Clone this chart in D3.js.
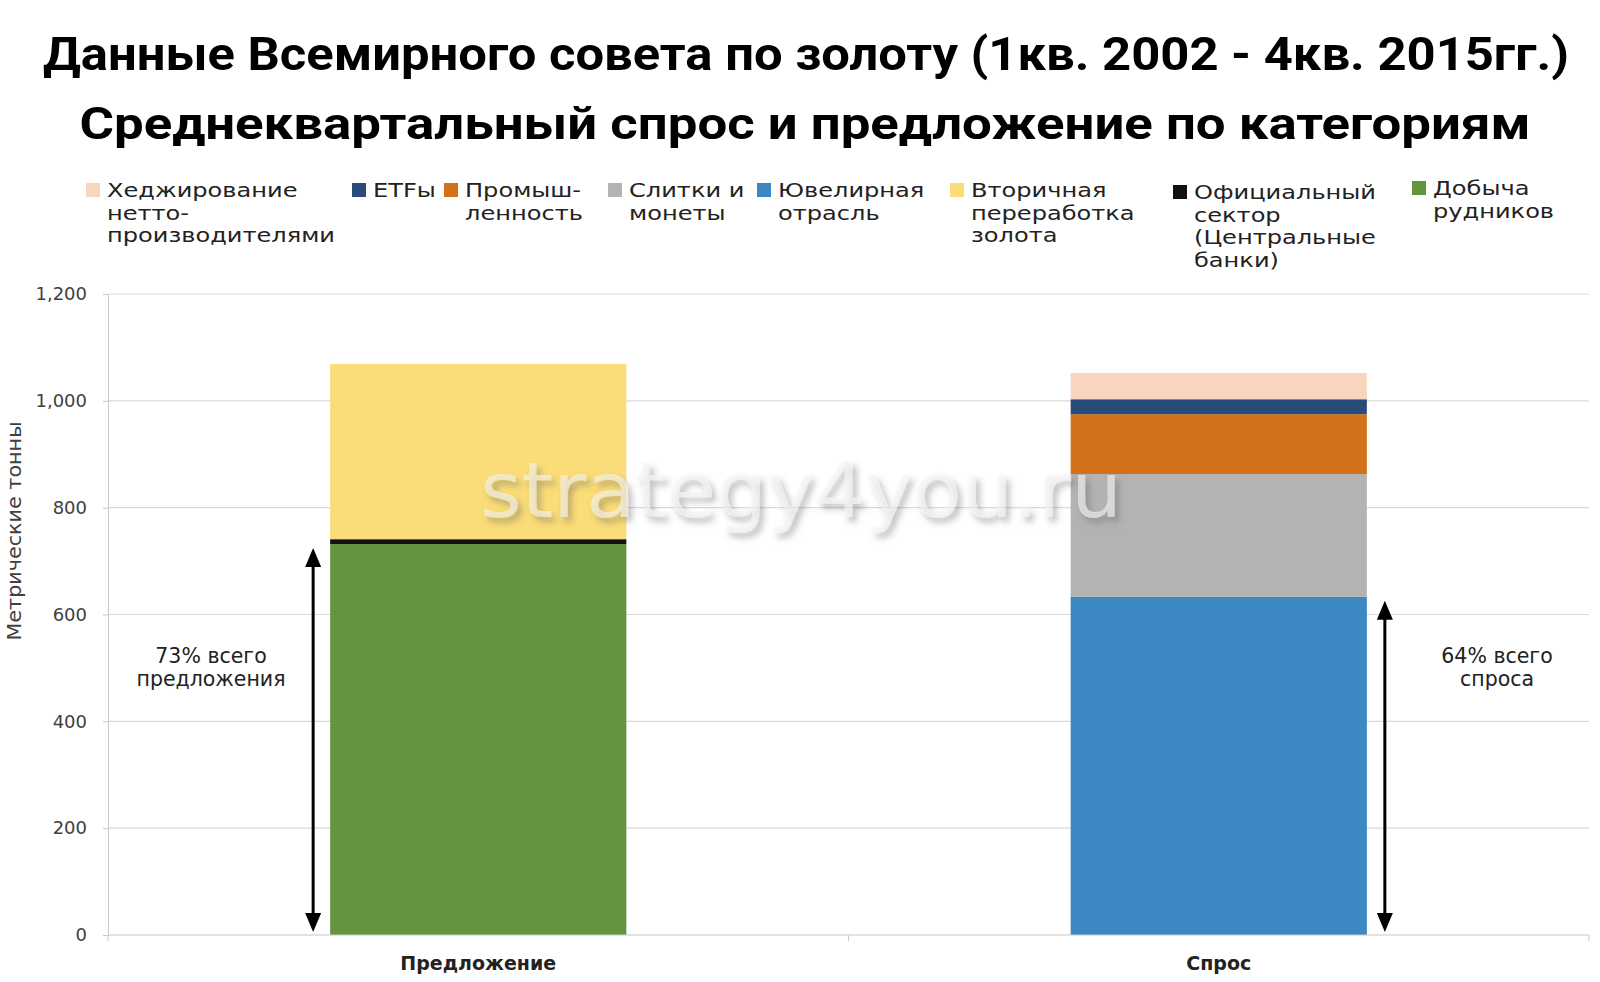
<!DOCTYPE html>
<html><head><meta charset="utf-8">
<script src="https://cdn.jsdelivr.net/npm/d3@7"></script>
<style>
html,body{margin:0;padding:0;background:#fff;}
svg{display:block;}
</style></head>
<body>
<svg id="chart" width="1600" height="982"></svg>
<script>
// ---------- data ----------
const titleLines = ["Данные Всемирного совета по золоту (1кв. 2002 - 4кв. 2015гг.)",
                    "Среднеквартальный спрос и предложение по категориям"];
const categories = ["Предложение", "Спрос"];
// series in stacking order (bottom to top)
const seriesNames = ["Добыча рудников", "Официальный сектор (Центральные банки)", "Вторичная переработка золота",
                     "Ювелирная отрасль", "Слитки и монеты", "Промышленность", "ETFы", "Хеджирование нетто-производителями"];
const seriesLegendLines = [["Добыча","рудников"], ["Официальный","сектор","(Центральные","банки)"],
                           ["Вторичная","переработка","золота"], ["Ювелирная","отрасль"], ["Слитки и","монеты"],
                           ["Промыш-","ленность"], ["ETFы"], ["Хеджирование","нетто-","производителями"]];
const seriesColors = ["#659441", "#111111", "#FADC78", "#3B88C3", "#B3B3B3", "#D27119", "#2A4C7C", "#F8D5BD"];
const supplyValues = [732, 9, 328, 0, 0, 0, 0, 0];
const demandValues = [0, 0, 0, 633, 230, 112, 28, 49];
const yTicks = [0, 200, 400, 600, 800, 1000, 1200];
const yTickLabels = ["0", "200", "400", "600", "800", "1,000", "1,200"];
const yTitle = "Метрические тонны";
const annotations = [
  {category: "Предложение", series: 0, side: "left",  lines: ["73% всего", "предложения"]},
  {category: "Спрос",       series: 3, side: "right", lines: ["64% всего", "спроса"]}
];
const watermark = "strategy4you.ru";

// ---------- layout ----------
const svg = d3.select("#chart");
const M = {left: 108, right: 1589, top: 294, bottom: 935};
const legendTextX = [107, 373, 465, 629, 778, 971, 1194, 1433]; // display order
const legendBase  = [197, 197, 197, 197, 197, 197, 199, 195];

const x = d3.scaleBand().domain(categories).range([M.left, M.right]).paddingInner(0.6).paddingOuter(0.3);
const y = d3.scaleLinear().domain([0, 1200]).range([M.bottom, M.top]);

const defs = svg.append("defs");
const f = defs.append("filter").attr("id","wm").attr("x","-10%").attr("y","-30%").attr("width","120%").attr("height","160%");
f.append("feDropShadow").attr("dx",4).attr("dy",5).attr("stdDeviation",3).attr("flood-color","#555").attr("flood-opacity",0.6);

// titles
const titleSpec = [{y: 70, w: 1526, cx: 806, fs: 46}, {y: 139, w: 1451, cx: 805, fs: 44}];
titleLines.forEach((t, i) => {
  const s = titleSpec[i];
  const el = svg.append("text").attr("x", s.cx).attr("y", s.y)
    .attr("text-anchor","middle").attr("font-family","Roboto, 'DejaVu Sans'").attr("font-weight","bold")
    .attr("font-size", s.fs).attr("fill","#000").text(t);
  const nat = el.node().getComputedTextLength();
  if (nat > s.w) el.attr("font-size", s.fs * s.w / nat);
  el.attr("textLength", s.w).attr("lengthAdjust","spacingAndGlyphs");
});

// gridlines
svg.append("g").selectAll("line").data(yTicks.filter(d => d > 0)).join("line")
  .attr("x1", M.left).attr("x2", M.right).attr("y1", d => y(d)).attr("y2", d => y(d))
  .attr("stroke", "#d9d9d9").attr("stroke-width", 1.2);

// y axis
const yAxis = d3.axisLeft(y).tickValues(yTicks).tickFormat((d, i) => yTickLabels[i]).tickSize(5).tickPadding(16);
const gy = svg.append("g").attr("transform", `translate(${M.left},0)`).call(yAxis);
gy.select(".domain").attr("stroke", "#c8c8c8");
gy.selectAll(".tick line").attr("stroke", "#c8c8c8");
gy.selectAll(".tick text").attr("font-family","DejaVu Sans").attr("font-size", 18).attr("fill","#404040");

svg.append("text").attr("transform", `translate(21,${531}) rotate(-90)`).attr("text-anchor","middle")
  .attr("font-family","DejaVu Sans").attr("font-size", 19).attr("fill","#404040")
  .attr("textLength", 219).attr("lengthAdjust","spacingAndGlyphs").text(yTitle);

// stacked bars
const rows = categories.map((c, i) => {
  const vals = i === 0 ? supplyValues : demandValues;
  const o = {category: c};
  seriesNames.forEach((s, j) => o[s] = vals[j]);
  return o;
});
const stack = d3.stack().keys(seriesNames)(rows);
svg.append("g").selectAll("g").data(stack).join("g").attr("fill", (d, i) => seriesColors[i])
  .selectAll("rect").data(d => d.filter(p => p[1] - p[0] > 0)).join("rect")
  .attr("x", d => x(d.data.category)).attr("width", x.bandwidth())
  .attr("y", d => y(d[1])).attr("height", d => y(d[0]) - y(d[1]));

// x axis
const xAxis = d3.axisBottom(x).tickSize(0).tickPadding(22);
const gx = svg.append("g").attr("transform", `translate(0,${M.bottom})`).call(xAxis);
gx.select(".domain").attr("stroke", "#c8c8c8").attr("d", `M${M.left},0H${M.right}`);
gx.selectAll(".tick text").attr("font-family","DejaVu Sans").attr("font-weight","bold")
  .attr("font-size", 19).attr("fill","#222");
// band separator ticks
const seps = [M.left, (x(categories[0]) + x.bandwidth() + x(categories[1])) / 2, M.right];
svg.append("g").selectAll("line").data(seps).join("line")
  .attr("x1", d => d).attr("x2", d => d).attr("y1", M.bottom).attr("y2", M.bottom + 6)
  .attr("stroke", "#c8c8c8");

// arrows + annotation text
annotations.forEach(a => {
  const ax = a.side === "left" ? x(a.category) - 17 : x(a.category) + x.bandwidth() + 18;
  const vals = a.category === categories[0] ? supplyValues : demandValues;
  const top = y(d3.sum(vals.slice(0, a.series + 1))) + 4;
  const bot = y(0) - 3;
  const g = svg.append("g");
  g.append("line").attr("x1", ax).attr("x2", ax).attr("y1", top + 14).attr("y2", bot - 14)
    .attr("stroke","#000").attr("stroke-width", 3);
  g.append("path").attr("d", `M${ax},${top}L${ax-8},${top+19}L${ax+8},${top+19}Z`).attr("fill","#000");
  g.append("path").attr("d", `M${ax},${bot}L${ax-8},${bot-19}L${ax+8},${bot-19}Z`).attr("fill","#000");
  const tx = a.side === "left" ? 211 : 1497;
  a.lines.forEach((l, k) => {
    g.append("text").attr("x", tx).attr("y", 663 + k * 23).attr("text-anchor","middle")
      .attr("font-family","DejaVu Sans").attr("font-size", 20.5).attr("fill","#222").text(l);
  });
});

// legend (reverse order)
const legendOrder = d3.range(seriesNames.length).reverse();
const lg = svg.append("g");
const legendTexts = [];
legendOrder.forEach((si, k) => {
  const tx = legendTextX[k], by = legendBase[k];
  lg.append("rect").attr("x", tx - 21).attr("y", by - 14).attr("width", 14).attr("height", 14)
    .attr("fill", seriesColors[si]);
  seriesLegendLines[si].forEach((l, j) => {
    const t = lg.append("text").attr("x", tx).attr("y", by + j * 22.5)
      .attr("font-family","DejaVu Sans").attr("font-size", 20).attr("fill","#222").text(l);
    legendTexts.push(t);
  });
});
// horizontal stretch so glyph widths match the original typeface
const refW = legendTexts.find(t => t.text() === "производителями").node().getComputedTextLength();
const factor = 228 / refW;
legendTexts.forEach(t => {
  const w = t.node().getComputedTextLength();
  t.attr("textLength", w * factor).attr("lengthAdjust", "spacingAndGlyphs");
});

// watermark
svg.append("text").attr("x", 801).attr("y", 517).attr("text-anchor","middle")
  .attr("font-family","DejaVu Sans").attr("font-size", 76)
  .attr("fill","#f4f4f4").attr("fill-opacity", 0.6).attr("filter","url(#wm)")
  .attr("textLength", 642).attr("lengthAdjust","spacingAndGlyphs").text(watermark);
</script>
</body></html>
